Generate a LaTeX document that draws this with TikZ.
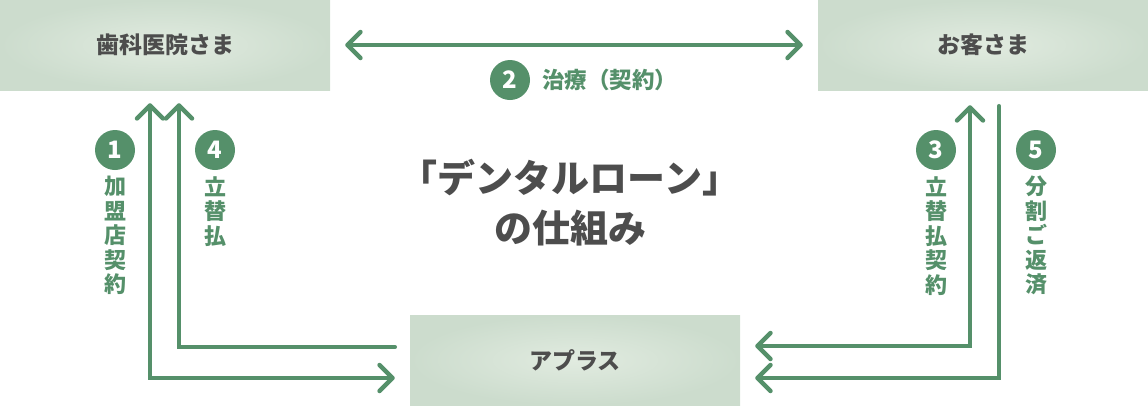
\documentclass[tikz,border=0pt]{standalone}
\usepackage{fontspec}
\newfontfamily\jp{Noto Sans CJK JP}
\usetikzlibrary{arrows.meta}
\definecolor{grn}{HTML}{55906A}
\definecolor{txt}{HTML}{4D4D4D}
\definecolor{boxin}{HTML}{E1EBE0}
\definecolor{boxout}{HTML}{CCDCCD}
\tikzset{
  party/.style={rectangle, minimum width=330pt, minimum height=90pt, inner sep=0pt,
    inner color=boxin, outer color=boxout, text=txt,
    font=\jp\bfseries\fontsize{23}{26}\selectfont},
  flow/.style={draw=grn, line width=4.5pt, line cap=round, line join=miter,
    arrows={Straight Barb[length=13pt,width=26pt,round]-Straight Barb[length=13pt,width=26pt,round]}},
  numc/.style={circle, fill=grn, minimum size=40pt, inner sep=0pt, text=white,
    font=\jp\bfseries\fontsize{24}{26}\selectfont},
  vlab/.style={align=center, inner sep=0pt, text=grn,
    font=\jp\bfseries\fontsize{22}{24.5}\selectfont},
  hlab/.style={inner sep=0pt, text=grn, font=\jp\bfseries\fontsize{22.5}{25}\selectfont},
  title/.style={align=center, inner sep=0pt, text=txt,
    font=\jp\bfseries\fontsize{38}{50}\selectfont}
}
\begin{document}
\begin{tikzpicture}[x=1pt,y=-1pt]
\useasboundingbox (0,0) rectangle (1148,405);
\node[party] (clinic) at (165,45) {歯科医院さま};
\node[party] (cust) at (983,45) {お客さま};
\node[party] (aplus) at (575,360) {アプラス};

\draw[flow] ([xshift=15pt]clinic.east) -- ([xshift=-15pt]cust.west);
\draw[flow] ([shift={(-15,13)}]clinic.south) |- ([shift={(-15,18)}]aplus.west);
\draw[flow, arrows={Straight Barb[length=13pt,width=26pt,round]-}] ([shift={(14,13)}]clinic.south) |- ([shift={(-15,-13)}]aplus.west);
\draw[flow] ([shift={(15,-14)}]aplus.east) -| ([shift={(-13,15)}]cust.south);
\draw[flow, arrows={Straight Barb[length=13pt,width=26pt,round]-}] ([shift={(15,18)}]aplus.east) -| ([shift={(16,16)}]cust.south);

\node[numc] (n2) at (510,80) {2};
\node[hlab, anchor=west] (t2) at (542,80) {治療（契約）};

\node[numc] (n1) at (115,150) {1};
\node[vlab, anchor=north] (t1) at (115,176) {加\\盟\\店\\契\\約};
\node[numc] (n4) at (215,150) {4};
\node[vlab, anchor=north] (t4) at (215,176) {立\\替\\払};
\node[numc] (n3) at (936,150) {3};
\node[vlab, anchor=north] (t3) at (936,176) {立\\替\\払\\契\\約};
\node[numc] (n5) at (1036,150) {5};
\node[vlab, anchor=north] (t5) at (1036,176) {分\\割\\ご\\返\\済};

\node[title] (ttl) at (570,203) {「デンタルローン」\\の仕組み};
\end{tikzpicture}
\end{document}
